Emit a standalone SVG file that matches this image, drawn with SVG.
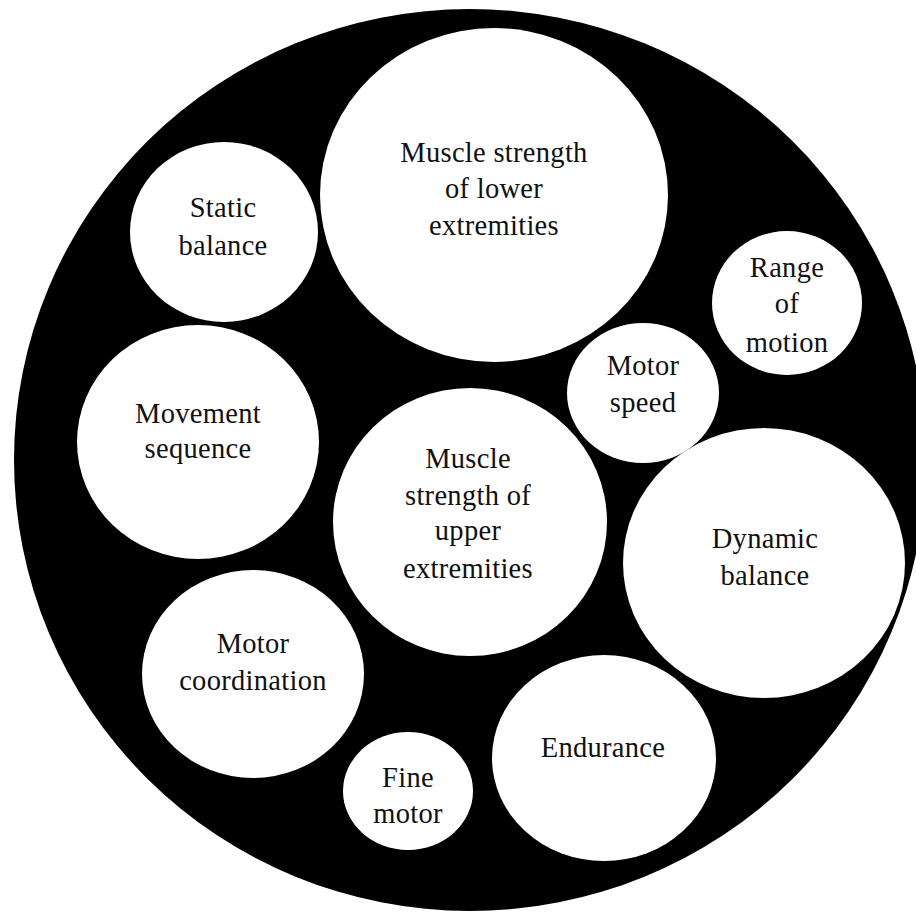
<svg xmlns="http://www.w3.org/2000/svg" width="916" height="913" viewBox="0 0 916 913">
  <style>
    .bg { fill: #ffffff; }
    .disc { fill: #000000; }
    .bubble { fill: #ffffff; }
    .label { font-family: "Liberation Serif", "Times New Roman", serif; font-size: 28.5px; letter-spacing: 0.3px; fill: #111111; text-anchor: middle; }
  </style>
  <rect class="bg" x="0" y="0" width="916" height="913"/>
  <!-- outer black disc holding all the components -->
  <ellipse class="disc" cx="470" cy="460" rx="456" ry="451"/>

  <g id="muscle-lower">
    <ellipse class="bubble" cx="494" cy="195" rx="174" ry="167"/>
    <text class="label" x="494" y="162">Muscle strength</text>
    <text class="label" x="494" y="198">of lower</text>
    <text class="label" x="494" y="235">extremities</text>
  </g>

  <g id="static-balance">
    <ellipse class="bubble" cx="224" cy="232" rx="94" ry="90"/>
    <text class="label" x="223" y="217">Static</text>
    <text class="label" x="223" y="255">balance</text>
  </g>

  <g id="range-of-motion">
    <ellipse class="bubble" cx="787" cy="303" rx="75" ry="72"/>
    <text class="label" x="787" y="277">Range</text>
    <text class="label" x="787" y="313">of</text>
    <text class="label" x="787" y="352">motion</text>
  </g>

  <g id="motor-speed">
    <ellipse class="bubble" cx="643" cy="393" rx="76" ry="70"/>
    <text class="label" x="643" y="375">Motor</text>
    <text class="label" x="643" y="412">speed</text>
  </g>

  <g id="movement-sequence">
    <ellipse class="bubble" cx="198" cy="442" rx="121" ry="117"/>
    <text class="label" x="198" y="423">Movement</text>
    <text class="label" x="198" y="458">sequence</text>
  </g>

  <g id="muscle-upper">
    <ellipse class="bubble" cx="470" cy="522" rx="137" ry="134"/>
    <text class="label" x="468" y="468">Muscle</text>
    <text class="label" x="468" y="505">strength of</text>
    <text class="label" x="468" y="540">upper</text>
    <text class="label" x="468" y="578">extremities</text>
  </g>

  <g id="dynamic-balance">
    <ellipse class="bubble" cx="764" cy="563" rx="141" ry="135"/>
    <text class="label" x="765" y="548">Dynamic</text>
    <text class="label" x="765" y="585">balance</text>
  </g>

  <g id="motor-coordination">
    <ellipse class="bubble" cx="253" cy="674" rx="111" ry="104"/>
    <text class="label" x="253" y="653">Motor</text>
    <text class="label" x="253" y="690">coordination</text>
  </g>

  <g id="fine-motor">
    <ellipse class="bubble" cx="408" cy="791" rx="65" ry="59"/>
    <text class="label" x="408" y="787">Fine</text>
    <text class="label" x="408" y="823">motor</text>
  </g>

  <g id="endurance">
    <ellipse class="bubble" cx="604" cy="758" rx="112" ry="103"/>
    <text class="label" x="603" y="757">Endurance</text>
  </g>

  <g id="connectors"/>
</svg>
